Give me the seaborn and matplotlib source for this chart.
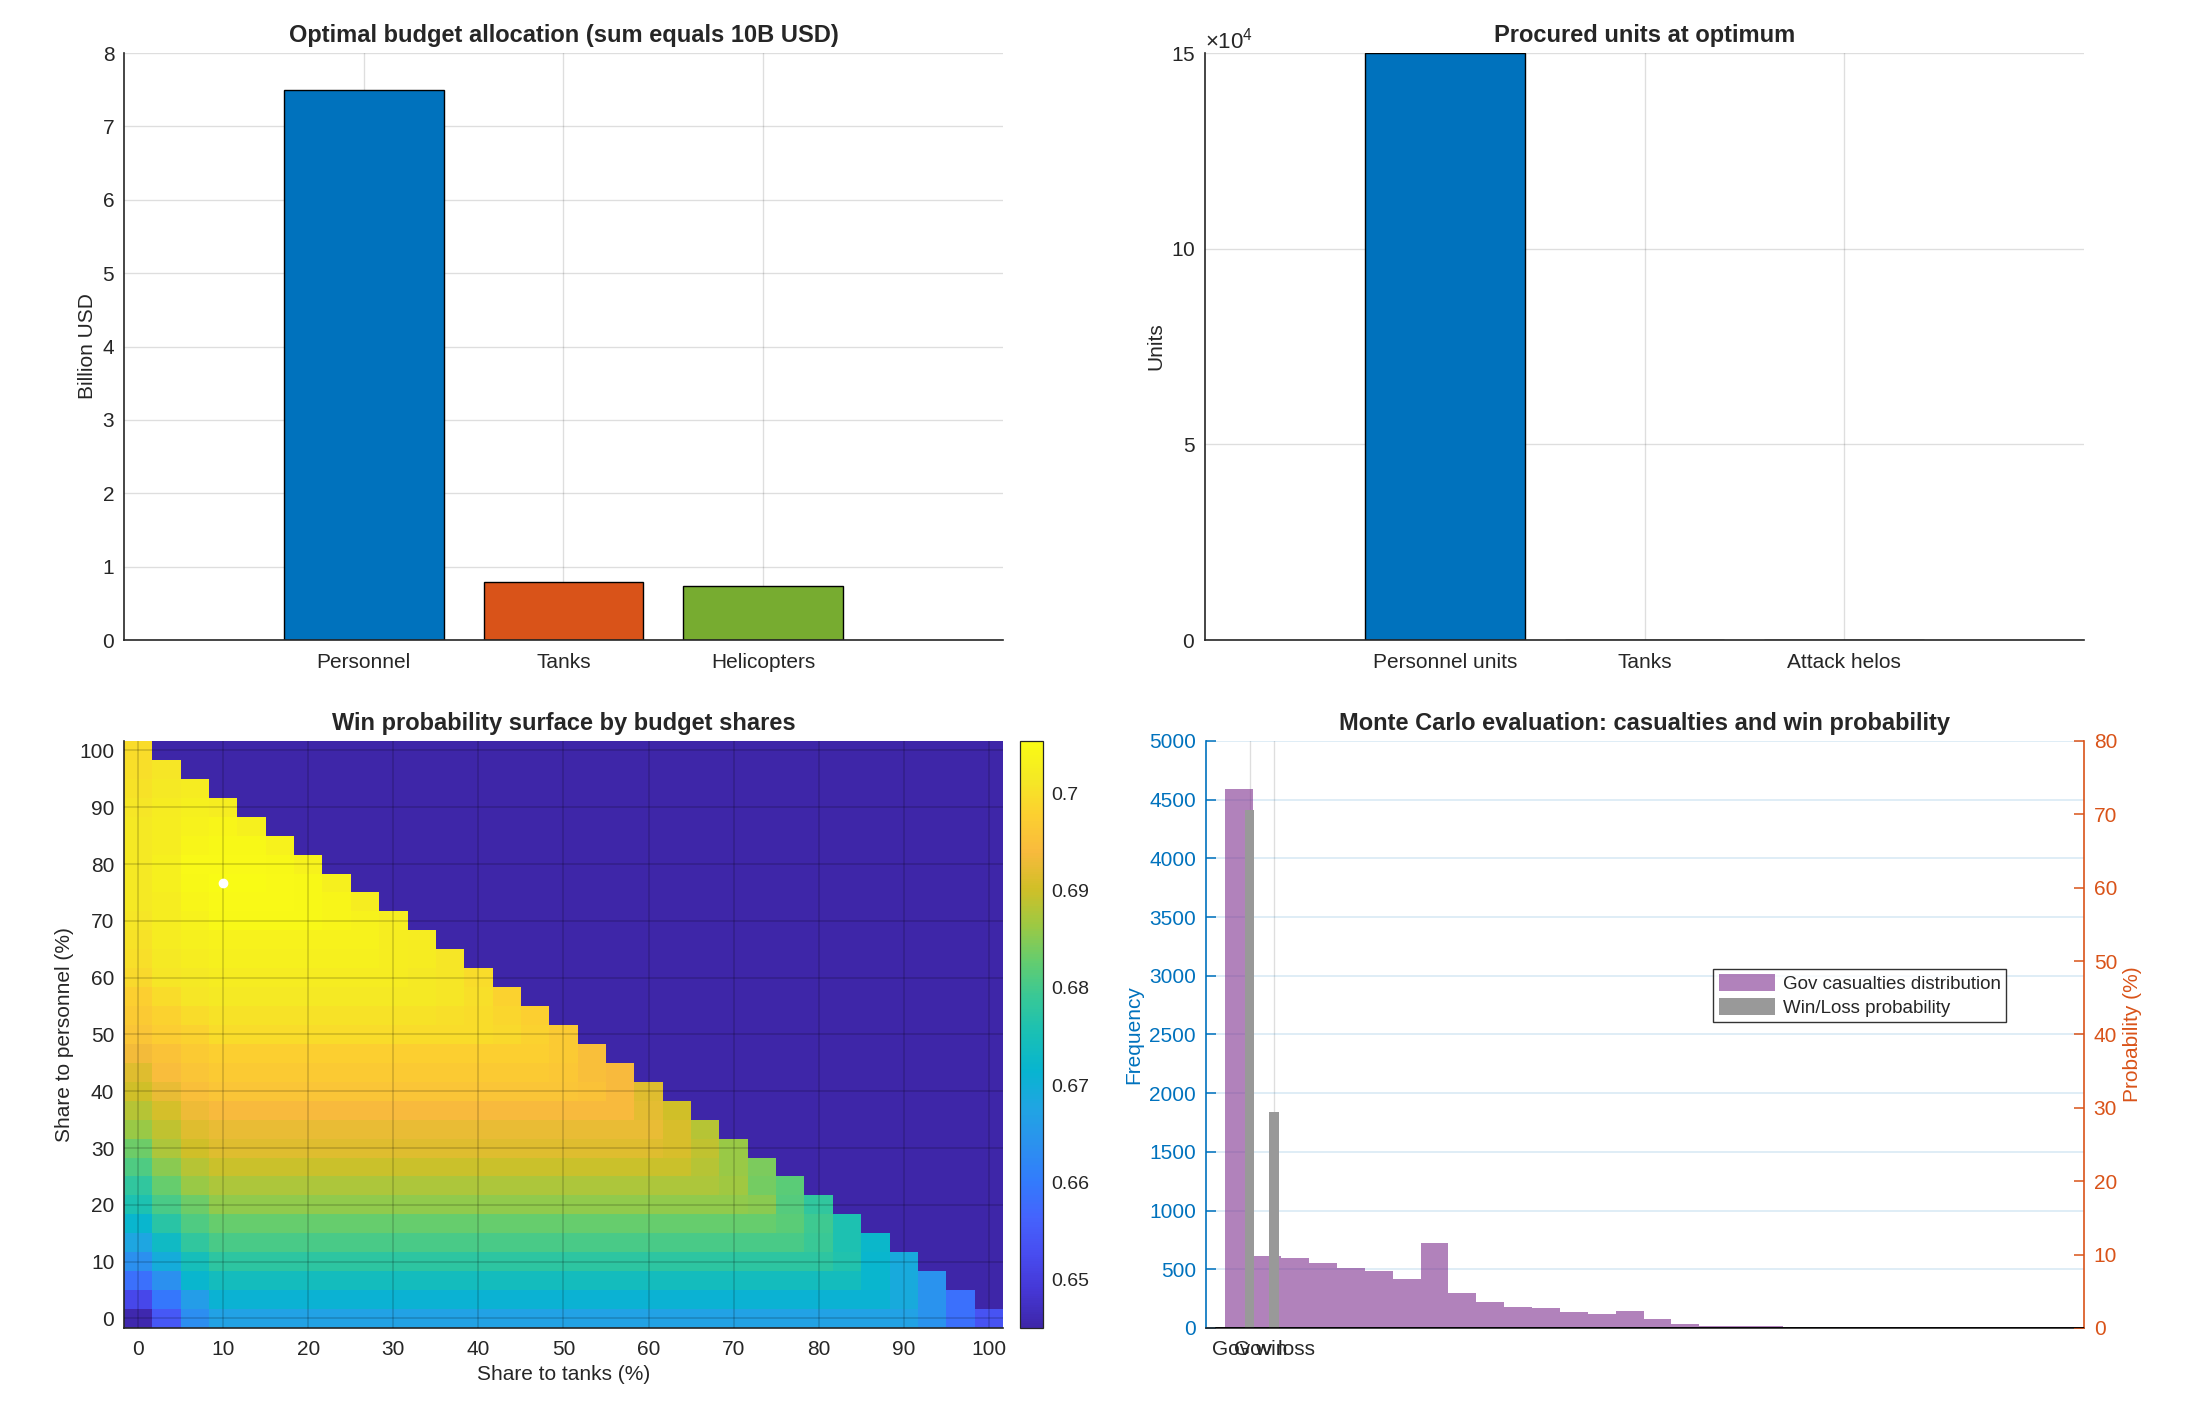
import numpy as np
import pandas as pd
import matplotlib
matplotlib.use("Agg")
import matplotlib.pyplot as plt
import seaborn as sns
from matplotlib.colors import LinearSegmentedColormap
from matplotlib.patches import Patch

# budget split at the optimum (billion USD)
budget_items = ["Personnel", "Tanks", "Helicopters"]
budget_busd = [7.50, 0.79, 0.74]

# units procured with that money
unit_items = ["Personnel units", "Tanks", "Attack helos"]
unit_counts = [150000, 79, 37]

# share grid (%) of the win probability surface
share_grid = np.linspace(0, 100, 31)
share_ticks = [0, 10, 20, 30, 40, 50, 60, 70, 80, 90, 100]
opt_tank_share = 10.0
opt_personnel_share = 76.67

# win probability, one row per personnel share (0% first),
# columns = tank share from 0%, only feasible cells (tanks + personnel <= 100)
win_prob_rows = [
    [0.6455, 0.6546, 0.6632,
     0.6671, 0.6671, 0.6671, 0.6671, 0.6671,
     0.6671, 0.6671, 0.6671, 0.6671, 0.6671,
     0.6671, 0.6671, 0.6671, 0.6671, 0.6671,
     0.6671, 0.6671, 0.6671, 0.6671, 0.6671,
     0.6671, 0.6671, 0.6671, 0.6671, 0.6671,
     0.6642, 0.6584, 0.6536],
    [0.6517, 0.6594, 0.6661,
     0.6709, 0.6709, 0.6709, 0.6709, 0.6709,
     0.6709, 0.6709, 0.6709, 0.6709, 0.6709,
     0.6709, 0.6709, 0.6709, 0.6709, 0.6709,
     0.6709, 0.6709, 0.6709, 0.6709, 0.6709,
     0.6709, 0.6709, 0.6709, 0.6709,
     0.6690, 0.6642, 0.6584],
    [0.6584, 0.6637, 0.6718,
     0.6742, 0.6742, 0.6742, 0.6742, 0.6742,
     0.6742, 0.6742, 0.6742, 0.6742, 0.6742,
     0.6742, 0.6742, 0.6742, 0.6742, 0.6742,
     0.6742, 0.6742, 0.6742, 0.6742, 0.6742,
     0.6742, 0.6742, 0.6742,
     0.6718, 0.6690, 0.6642],
    [0.6637, 0.6694, 0.6747,
     0.6776, 0.6776, 0.6776, 0.6776, 0.6776,
     0.6776, 0.6776, 0.6776, 0.6776, 0.6776,
     0.6776, 0.6776, 0.6776, 0.6776, 0.6776,
     0.6776, 0.6776, 0.6776, 0.6776, 0.6776,
     0.6776, 0.6776,
     0.6762, 0.6718, 0.6690],
    [0.6680, 0.6733, 0.6781,
     0.6805, 0.6805, 0.6805, 0.6805, 0.6805,
     0.6805, 0.6805, 0.6805, 0.6805, 0.6805,
     0.6805, 0.6805, 0.6805, 0.6805, 0.6805,
     0.6805, 0.6805, 0.6805, 0.6805, 0.6805,
     0.6805,
     0.6790, 0.6757, 0.6723],
    [0.6718, 0.6771, 0.6810,
     0.6829, 0.6829, 0.6829, 0.6829, 0.6829,
     0.6829, 0.6829, 0.6829, 0.6829, 0.6829,
     0.6829, 0.6829, 0.6829, 0.6829, 0.6829,
     0.6829, 0.6829, 0.6829, 0.6829, 0.6829,
     0.6819, 0.6795, 0.6757],
    [0.6757, 0.6805, 0.6834,
     0.6858, 0.6858, 0.6858, 0.6858, 0.6858,
     0.6858, 0.6858, 0.6858, 0.6858, 0.6858,
     0.6858, 0.6858, 0.6858, 0.6858, 0.6858,
     0.6858, 0.6858, 0.6858, 0.6858,
     0.6853, 0.6814, 0.6781],
    [0.6781, 0.6829, 0.6862,
     0.6877, 0.6877, 0.6877, 0.6877, 0.6877,
     0.6877, 0.6877, 0.6877, 0.6877, 0.6877,
     0.6877, 0.6877, 0.6877, 0.6877, 0.6877,
     0.6877, 0.6877, 0.6877,
     0.6867, 0.6838, 0.6819],
    [0.6810, 0.6853, 0.6882,
     0.6896, 0.6896, 0.6896, 0.6896, 0.6896,
     0.6896, 0.6896, 0.6896, 0.6896, 0.6896,
     0.6896, 0.6896, 0.6896, 0.6896, 0.6896,
     0.6896, 0.6896,
     0.6882, 0.6862, 0.6843],
    [0.6834, 0.6877, 0.6901,
     0.6915, 0.6915, 0.6915, 0.6915, 0.6915,
     0.6915, 0.6915, 0.6915, 0.6915, 0.6915,
     0.6915, 0.6915, 0.6915, 0.6915, 0.6915,
     0.6915,
     0.6910, 0.6891, 0.6862],
    [0.6862, 0.6891, 0.6915,
     0.6925, 0.6925, 0.6925, 0.6925, 0.6925,
     0.6925, 0.6925, 0.6925, 0.6925, 0.6925,
     0.6925, 0.6925, 0.6925, 0.6925, 0.6925,
     0.6925, 0.6910, 0.6882],
    [0.6882, 0.6906, 0.6930,
     0.6939, 0.6939, 0.6939, 0.6939, 0.6939,
     0.6939, 0.6939, 0.6939, 0.6939, 0.6939,
     0.6939, 0.6939, 0.6939, 0.6939,
     0.6939, 0.6920, 0.6901],
    [0.6901, 0.6925, 0.6949,
     0.6958, 0.6958, 0.6958, 0.6958, 0.6958,
     0.6958, 0.6958, 0.6958, 0.6958, 0.6958,
     0.6958, 0.6958, 0.6958,
     0.6953, 0.6939, 0.6915],
    [0.6915, 0.6944, 0.6958,
     0.6968, 0.6968, 0.6968, 0.6968, 0.6968,
     0.6968, 0.6968, 0.6968, 0.6968, 0.6968,
     0.6968, 0.6968,
     0.6963, 0.6949, 0.6939],
    [0.6934, 0.6953, 0.6968,
     0.6977, 0.6977, 0.6977, 0.6977, 0.6977,
     0.6977, 0.6977, 0.6977, 0.6977, 0.6977,
     0.6977,
     0.6977, 0.6968, 0.6949],
    [0.6958, 0.6973, 0.6982,
     0.6997, 0.6997, 0.6997, 0.6997, 0.6997,
     0.6997, 0.6997, 0.6997, 0.6997, 0.6997,
     0.6992, 0.6982, 0.6968],
    [0.6968, 0.6982, 0.6997,
     0.7006, 0.7006, 0.7006, 0.7006, 0.7006, 0.7006, 0.7006, 0.7006,
     0.7001, 0.6997, 0.6987, 0.6977],
    [0.6977, 0.6997, 0.7011,
     0.7016, 0.7016, 0.7016, 0.7016, 0.7016, 0.7016, 0.7016, 0.7016,
     0.7011, 0.7001, 0.6982],
    [0.6992, 0.7011, 0.7016,
     0.7021, 0.7021, 0.7021, 0.7021, 0.7021, 0.7021, 0.7021,
     0.7016, 0.7011, 0.6997],
    [0.7001, 0.7016, 0.7025,
     0.7030, 0.7030, 0.7030, 0.7030, 0.7030, 0.7030,
     0.7025, 0.7021, 0.7011],
    [0.7006, 0.7021, 0.7030,
     0.7035, 0.7035, 0.7035, 0.7035, 0.7035,
     0.7035, 0.7025, 0.7021],
    [0.7011, 0.7025, 0.7035,
     0.7045, 0.7045, 0.7045, 0.7045,
     0.7040, 0.7035, 0.7025],
    [0.7016, 0.7025, 0.7040, 0.7049, 0.7049, 0.7049, 0.7045, 0.7040, 0.7025],
    [0.7016, 0.7030, 0.7045, 0.7054, 0.7054, 0.7049, 0.7045, 0.7030],
    [0.7016, 0.7030, 0.7049, 0.7049, 0.7049, 0.7045, 0.7035],
    [0.7016, 0.7025, 0.7040, 0.7045, 0.7045, 0.7035],
    [0.7016, 0.7025, 0.7035, 0.7040, 0.7030],
    [0.7011, 0.7021, 0.7030, 0.7025],
    [0.7006, 0.7016, 0.7021],
    [0.7001, 0.7011],
    [0.6997],
]
cbar_ticks = [0.65, 0.66, 0.67, 0.68, 0.69, 0.70]
cbar_labels = ["0.65", "0.66", "0.67", "0.68", "0.69", "0.7"]

# Monte Carlo casualties histogram (counts per bin)
cas_bin_start = 0.0
cas_bin_width = 1.146
cas_counts = [4595, 610, 600, 553, 512, 485, 416, 725, 294, 217,
              180, 170, 135, 117, 147, 73, 30, 20, 20, 14,
              8, 5, 3, 2, 2, 1, 1, 0, 1, 1]

# outcome probabilities (%)
outcome_labels = ["Gov win", "Gov loss"]
outcome_pos = [1, 2]
outcome_pct = [70.6, 29.4]

# colours (MATLAB defaults)
BLUE = "#0072BD"
ORANGE = "#D95319"
GREEN = "#77AC30"
PURPLE = "#7E2F8E"
AXC = "#262626"

parula = LinearSegmentedColormap.from_list("parula", [
    (0.2422, 0.1504, 0.6603), (0.2706, 0.2147, 0.8364), (0.2813, 0.3006, 0.9414),
    (0.2699, 0.3892, 0.9906), (0.1963, 0.4847, 0.9892), (0.1687, 0.5703, 0.9359),
    (0.1248, 0.6459, 0.8883), (0.0297, 0.7082, 0.8163), (0.0964, 0.7500, 0.7120),
    (0.2161, 0.7843, 0.5923), (0.3909, 0.8029, 0.4354), (0.6174, 0.7876, 0.2612),
    (0.8203, 0.7498, 0.1535), (0.9728, 0.7298, 0.2394), (0.9892, 0.8136, 0.1885),
    (0.9597, 0.9135, 0.1423), (0.9769, 0.9839, 0.0805)], N=256)

sns.set_style("white")
plt.rcParams["font.family"] = ["Liberation Sans", "DejaVu Sans"]
plt.rcParams["mathtext.fontset"] = "custom"
plt.rcParams["mathtext.rm"] = "Liberation Sans"

TICK_FS = 15
TITLE_FS = 17


def style_axes(ax):
    for side in ["top", "right"]:
        ax.spines[side].set_visible(False)
    for side in ["left", "bottom"]:
        ax.spines[side].set_visible(True)
        ax.spines[side].set_color(AXC)
        ax.spines[side].set_linewidth(1.2)
    ax.tick_params(direction="in", length=7, width=1.1, colors=AXC,
                   labelsize=TICK_FS, labelcolor=AXC)
    ax.tick_params(axis="x", pad=9)
    ax.tick_params(axis="y", pad=7)


fig = plt.figure(figsize=(21.87, 14.06), dpi=100)
ax1 = fig.add_axes([0.0567, 0.5448, 0.4019, 0.4175])
ax2 = fig.add_axes([0.5510, 0.5448, 0.4019, 0.4175])
ax3 = fig.add_axes([0.0567, 0.0555, 0.4019, 0.4175])
cax = fig.add_axes([0.4664, 0.0555, 0.0105, 0.4175])
ax4 = fig.add_axes([0.5513, 0.0555, 0.4016, 0.4175])

# --- top left: budget allocation
sns.barplot(x=budget_items, y=budget_busd, hue=budget_items,
            palette=[BLUE, ORANGE, GREEN], saturation=1, width=0.8,
            edgecolor="black", linewidth=1.0, legend=False, ax=ax1)
ax1.set_xlim(-1.2, 3.2)
ax1.set_ylim(0, 8)
ax1.set_yticks(range(0, 9))
ax1.set_xlabel("")
ax1.set_ylabel("Billion USD", fontsize=TICK_FS, color=AXC)
ax1.set_title("Optimal budget allocation (sum equals 10B USD)",
              fontsize=TITLE_FS, fontweight="bold", pad=8)
style_axes(ax1)
ax1.grid(True, color=AXC, alpha=0.15, linewidth=1)
ax1.set_axisbelow(True)

# --- top right: procured units
sns.barplot(x=unit_items, y=unit_counts, color=BLUE, saturation=1, width=0.8,
            edgecolor="black", linewidth=1.0, ax=ax2)
ax2.set_xlim(-1.2, 3.2)
ax2.set_ylim(0, 150000)
ax2.set_yticks([0, 50000, 100000, 150000])
ax2.ticklabel_format(axis="y", style="sci", scilimits=(4, 4), useMathText=True)
ax2.yaxis.get_offset_text().set_fontsize(TICK_FS + 1)
ax2.yaxis.get_offset_text().set_color(AXC)
ax2.set_xlabel("")
ax2.set_ylabel("Units", fontsize=TICK_FS, color=AXC)
ax2.set_title("Procured units at optimum", fontsize=TITLE_FS, fontweight="bold", pad=8)
style_axes(ax2)
ax2.grid(True, color=AXC, alpha=0.15, linewidth=1)
ax2.set_axisbelow(True)

# --- bottom left: win probability surface
surface = np.full((len(share_grid), len(share_grid)), np.nan)
for i, row in enumerate(win_prob_rows):
    surface[i, :len(row)] = row
surface_df = pd.DataFrame(surface, index=share_grid, columns=share_grid)
sns.heatmap(surface_df, mask=np.isnan(surface), cmap=parula, vmin=0.645, vmax=0.7054,
            xticklabels=False, yticklabels=False, ax=ax3, cbar_ax=cax)
ax3.set_facecolor(parula(0.0))
ax3.invert_yaxis()


def to_cell(share):
    # heatmap cells sit at integer positions, centre = index + 0.5
    return 0.5 + share * (len(share_grid) - 1) / 100.0


ax3.set_xticks([to_cell(t) for t in share_ticks])
ax3.set_xticklabels([str(t) for t in share_ticks], rotation=0)
ax3.set_yticks([to_cell(t) for t in share_ticks])
ax3.set_yticklabels([str(t) for t in share_ticks], rotation=0)
for t in share_ticks:
    ax3.axvline(to_cell(t), color="black", alpha=0.16, linewidth=1.3, zorder=3)
    ax3.axhline(to_cell(t), color="black", alpha=0.16, linewidth=1.3, zorder=3)
ax3.plot(to_cell(opt_tank_share), to_cell(opt_personnel_share), "o",
         color="white", markeredgecolor="white", markersize=6, zorder=4)
ax3.set_xlabel("Share to tanks (%)", fontsize=TICK_FS, color=AXC)
ax3.set_ylabel("Share to personnel (%)", fontsize=TICK_FS, color=AXC)
ax3.set_title("Win probability surface by budget shares", fontsize=TITLE_FS,
              fontweight="bold", pad=8)
style_axes(ax3)

cb = ax3.collections[0].colorbar
cb.set_ticks(cbar_ticks)
cb.set_ticklabels(cbar_labels)
cb.ax.tick_params(direction="in", length=5, width=1, colors=AXC, pad=6,
                  labelsize=TICK_FS - 1, labelcolor=AXC)
cb.outline.set_edgecolor(AXC)
cb.outline.set_linewidth(0.9)

# --- bottom right: Monte Carlo histogram + win/loss bars
cas_edges = cas_bin_start + cas_bin_width * np.arange(len(cas_counts) + 1)
cas_centres = cas_edges[:-1] + cas_bin_width / 2
cas_df = pd.DataFrame({"casualties": cas_centres, "count": cas_counts})
sns.histplot(data=cas_df, x="casualties", weights="count", bins=list(cas_edges),
             color=PURPLE, alpha=0.6, linewidth=0, ax=ax4)
ax4.set_xlim(-0.81, 35.3)
ax4.set_ylim(0, 5000)
ax4.set_yticks(range(0, 5001, 500))
ax4.set_xticks(outcome_pos)
ax4.set_xticklabels(outcome_labels)
ax4.set_xlabel("")
ax4.set_ylabel("Frequency", fontsize=TICK_FS, color=BLUE)
ax4.set_title("Monte Carlo evaluation: casualties and win probability",
              fontsize=TITLE_FS, fontweight="bold", pad=8)
style_axes(ax4)
ax4.spines["left"].set_color(BLUE)
ax4.tick_params(axis="y", colors=BLUE, labelcolor=BLUE)
ax4.grid(axis="y", color=BLUE, alpha=0.15, linewidth=1.2)
ax4.grid(axis="x", color=AXC, alpha=0.15, linewidth=1)
ax4.set_axisbelow(True)

ax5 = ax4.twinx()
ax5.bar(outcome_pos, outcome_pct, width=0.38, color="#999999", linewidth=0, zorder=2)
ax5.axhline(0, xmin=0.012, color="black", linewidth=1.3, zorder=3)
ax5.set_ylim(0, 80)
ax5.set_yticks(range(0, 81, 10))
ax5.set_ylabel("Probability (%)", fontsize=TICK_FS, color=ORANGE)
for side in ["top", "left", "bottom"]:
    ax5.spines[side].set_visible(False)
ax5.spines["right"].set_visible(True)
ax5.spines["right"].set_color(ORANGE)
ax5.spines["right"].set_linewidth(1.2)
ax5.tick_params(axis="y", direction="in", length=7, width=1.1, colors=ORANGE, pad=7,
                labelsize=TICK_FS, labelcolor=ORANGE)

handles = [Patch(facecolor=PURPLE, alpha=0.6, edgecolor="none"),
           Patch(facecolor="#999999", edgecolor="none")]
leg = ax5.legend(handles, ["Gov casualties distribution", "Win/Loss probability"],
                 loc="upper left", bbox_to_anchor=(0.578, 0.612), frameon=True,
                 fancybox=False, edgecolor="black", fontsize=13.5, handlelength=3.0,
                 handleheight=1.0, borderpad=0.3, labelspacing=0.25,
                 handletextpad=0.4, borderaxespad=0)
leg.get_frame().set_linewidth(1.0)

fig.savefig("out.png", dpi=100)
